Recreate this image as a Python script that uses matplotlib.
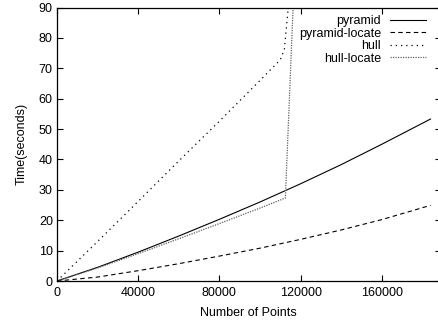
import matplotlib
matplotlib.use("Agg")
import matplotlib.pyplot as plt

plt.rcParams['font.family'] = ['Liberation Sans', 'DejaVu Sans']

# data
pyr_n = [0, 20000, 40000, 60000, 80000, 100000, 120000, 140000, 160000, 184000]
pyramid = [0, 4.5, 9.5, 14.8, 20.3, 26.0, 32.0, 38.3, 45.0, 53.3]
pyramid_locate = [0, 1.3, 3.4, 5.7, 8.2, 10.8, 13.7, 16.8, 20.2, 24.9]

hull_n = [0, 20000, 40000, 60000, 80000, 100000, 110000, 112000, 114000, 116000]
hull = [0, 13.0, 26.2, 39.5, 52.6, 66.0, 72.8, 76.2, 90.5, 105.0]

hloc_n = [0, 20000, 40000, 60000, 80000, 100000, 112500, 118000]
hull_locate = [0, 4.3, 9.0, 13.9, 18.9, 24.0, 27.3, 118.0]

xticks = [0, 40000, 80000, 120000, 160000]
yticks = [0, 10, 20, 30, 40, 50, 60, 70, 80, 90]

fig = plt.figure(figsize=(4.39, 3.24), dpi=100)
ax = fig.add_axes([0.1298, 0.1327, 0.874, 0.8441])

ax.plot(pyr_n, pyramid, color='black', lw=0.8, label='pyramid')
ax.plot(pyr_n, pyramid_locate, color='black', lw=0.8, linestyle=(0, (4, 3)), label='pyramid-locate')
ax.plot(hull_n, hull, color='black', lw=0.9, linestyle=(0, (1, 3.2)), label='hull')
ax.plot(hloc_n, hull_locate, color='#606060', lw=0.9, linestyle=(0, (1, 1)), label='hull-locate')

ax.set_xlim(0, 189000)
ax.set_ylim(0, 90)
ax.set_xticks(xticks)
ax.set_yticks(yticks)
ax.tick_params(direction='in', length=4.5, width=0.8, top=True, right=True,
               labelsize=9, pad=3)
ax.tick_params(axis='x', pad=4)
for s in ax.spines.values():
    s.set_linewidth(0.9)

ax.set_xlabel('Number of Points', fontsize=9, labelpad=6)
ax.set_ylabel('Time(seconds)', fontsize=9, labelpad=8)

leg = ax.legend(loc='upper right', bbox_to_anchor=(0.975, 0.99), frameon=False,
                markerfirst=False, fontsize=9, handlelength=2.9, labelspacing=0.04,
                handletextpad=0.7, borderaxespad=0)

fig.savefig('out.png', dpi=100)
